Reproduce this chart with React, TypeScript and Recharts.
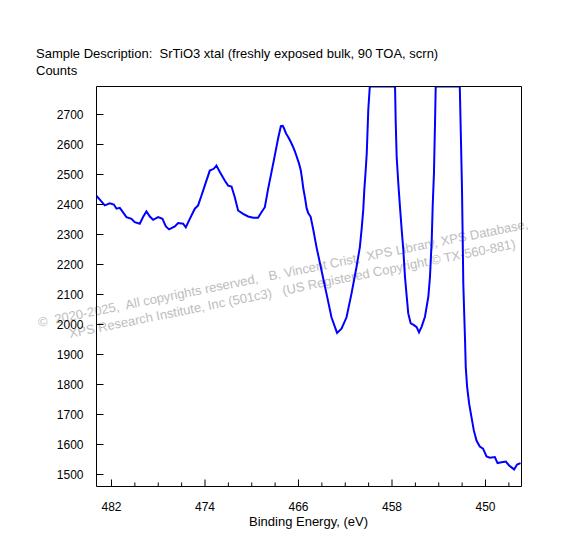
import React from 'react';
import { LineChart, Line, XAxis, YAxis } from 'recharts';

const titleText = 'Sample Description:  SrTiO3 xtal (freshly exposed bulk, 90 TOA, scrn)';
const yTitle = 'Counts';
const xTitle = 'Binding Energy, (eV)';
const watermark1 = '©  2020-2025,  All copyrights reserved,   B. Vincent Crist,  XPS Library, XPS Database,';
const watermark2 = 'XPS Research Institute, Inc (501c3)   (US Registered Copyright © TX-560-881)';

const energies = [
  483.32, 483.0, 482.57, 482.15, 481.8, 481.57, 481.29, 481.01, 480.72, 480.29,
  480.01, 479.58, 479.3, 479.01, 478.72, 478.44, 478.01, 477.64, 477.35, 477.07,
  476.58, 476.3, 475.87, 475.64, 475.3, 474.87, 474.59, 474.3, 474.02, 473.59,
  473.25, 473.02, 472.73, 472.31, 472.02, 471.73, 471.45, 471.17, 470.74, 470.31,
  469.88, 469.46, 469.17, 468.88, 468.6, 468.31, 468.03, 467.75, 467.51, 467.35,
  467.24, 467.07, 466.87, 466.67, 466.5, 466.3, 466.15, 465.96, 465.81, 465.7,
  465.59, 465.44, 465.3, 465.16, 464.96, 464.82, 464.73, 464.46, 464.03, 463.6,
  463.18, 462.7, 462.32, 461.89, 461.47, 461.04, 460.75, 460.59, 460.46, 460.37,
  460.25, 460.16, 460.08, 460.03, 459.9, 457.74, 457.68, 457.6, 457.46, 457.32,
  457.17, 457.03, 456.89, 456.74, 456.61, 456.4, 456.12, 455.89, 455.69, 455.46,
  455.18, 454.89, 454.75, 454.6, 454.52, 454.41, 454.32, 454.26, 452.2, 452.1,
  452.01, 451.95, 451.9, 451.84, 451.75, 451.69, 451.57, 451.4, 451.2, 451.0,
  450.77, 450.49, 450.21, 449.91, 449.63, 449.2, 448.97, 448.63, 448.26, 447.98,
  447.55, 447.3, 447.0,
];

const counts = [
  2430, 2416, 2397, 2404, 2400, 2386, 2389, 2374, 2358, 2352,
  2341, 2336, 2358, 2377, 2360, 2349, 2358, 2352, 2327, 2317,
  2327, 2338, 2336, 2324, 2352, 2386, 2397, 2430, 2463, 2513,
  2519, 2530, 2508, 2480, 2463, 2460, 2424, 2380, 2369, 2360,
  2356, 2356, 2374, 2391, 2452, 2508, 2563, 2619, 2661, 2662,
  2654, 2637, 2624, 2609, 2595, 2576, 2559, 2537, 2515, 2487,
  2454, 2421, 2387, 2371, 2359, 2332, 2315, 2258, 2180, 2102,
  2024, 1972, 1986, 2024, 2102, 2191, 2258, 2321, 2382, 2448,
  2515, 2571, 2659, 2715, 2793, 2793, 2671, 2559, 2471, 2393,
  2315, 2248, 2159, 2093, 2037, 2004, 1998, 1991, 1974, 1993,
  2026, 2093, 2159, 2282, 2393, 2504, 2671, 2793, 2793, 2615,
  2448, 2282, 2137, 2059, 1948, 1858, 1791, 1736, 1691, 1647,
  1613, 1593, 1586, 1560, 1556, 1558, 1538, 1541, 1543, 1530,
  1517, 1533, 1538,
];

const yTicks = [1500, 1600, 1700, 1800, 1900, 2000, 2100, 2200, 2300, 2400, 2500, 2600, 2700];
const xTicks = [482, 480, 478, 476, 474, 472, 470, 468, 466, 464, 462, 460, 458, 456, 454, 452, 450, 448];
const xLabeled = [482, 474, 466, 458, 450];

const xDomain: [number, number] = [446.92, 483.283];
const yDomain: [number, number] = [1460, 2793.3];

const rows = energies.map((e, i) => ({ e, c: counts[i] }));

const FONT = '"Liberation Sans", Arial, sans-serif';

const YTick = (props: any) => {
  const { x, y, payload } = props;
  return (
    <g>
      <line x1={x} x2={x + 7} y1={y} y2={y} stroke="#000" strokeWidth={1} />
      <text x={x - 13} y={y + 4.3} textAnchor="end" fontSize={12} fontFamily={FONT} fill="#000">
        {payload.value}
      </text>
    </g>
  );
};

const XTick = (props: any) => {
  const { x, y, payload } = props;
  const major = xLabeled.includes(payload.value);
  return (
    <g>
      <line x1={x} x2={x} y1={y} y2={y - (major ? 7 : 4)} stroke="#000" strokeWidth={1} />
      {major ? (
        <text x={x} y={y + 24.2} textAnchor="middle" fontSize={12} fontFamily={FONT} fill="#000">
          {payload.value}
        </text>
      ) : null}
    </g>
  );
};

export default function App() {
  return (
    <div style={{ position: 'absolute', left: 0, top: 0, width: 578, height: 560, background: '#fff' }}>
      <svg width={578} height={560} style={{ position: 'absolute', left: 0, top: 0 }}>
        <text x={36} y={58} fontSize={13} fontFamily={FONT} fill="#000" style={{ whiteSpace: 'pre' }}>
          {titleText}
        </text>
        <text x={36} y={75} fontSize={13} fontFamily={FONT} fill="#000">
          {yTitle}
        </text>
        <text x={308.5} y={526} fontSize={13} fontFamily={FONT} fill="#000" textAnchor="middle">
          {xTitle}
        </text>
        <text
          x={39}
          y={327}
          fontSize={13}
          fontFamily={FONT}
          fill="#bdbdbd"
          transform="rotate(-11.4 39 327)"
          style={{ whiteSpace: 'pre' }}
        >
          {watermark1}
        </text>
        <text
          x={70}
          y={338}
          fontSize={13}
          fontFamily={FONT}
          fill="#bdbdbd"
          transform="rotate(-11.4 70 338)"
          style={{ whiteSpace: 'pre' }}
        >
          {watermark2}
        </text>
      </svg>
      <div style={{ position: 'absolute', left: 0, top: 0 }}>
        <LineChart
          width={578}
          height={560}
          data={rows}
          margin={{ top: 76.5, right: 46.5, bottom: 33.5, left: 36.5 }}
        >
          <XAxis
            xAxisId="main"
            dataKey="e"
            type="number"
            domain={xDomain}
            allowDataOverflow
            reversed
            ticks={xTicks}
            interval={0}
            height={40}
            tickSize={0}
            tickMargin={0}
            tickLine={false}
            axisLine={{ stroke: '#000', strokeWidth: 1 }}
            tick={<XTick />}
          />
          <XAxis
            xAxisId="top"
            orientation="top"
            type="number"
            domain={[0, 1]}
            height={10}
            tick={false}
            tickLine={false}
            axisLine={{ stroke: '#000', strokeWidth: 1 }}
          />
          <YAxis
            yAxisId="main"
            type="number"
            domain={yDomain}
            allowDataOverflow
            ticks={yTicks}
            interval={0}
            width={60}
            tickSize={0}
            tickMargin={0}
            tickLine={false}
            axisLine={{ stroke: '#000', strokeWidth: 1 }}
            tick={<YTick />}
          />
          <YAxis
            yAxisId="right"
            orientation="right"
            type="number"
            domain={[0, 1]}
            width={10}
            tick={false}
            tickLine={false}
            axisLine={{ stroke: '#000', strokeWidth: 1 }}
          />
          <Line
            xAxisId="main"
            yAxisId="main"
            dataKey="c"
            type="linear"
            stroke="#0000ff"
            strokeWidth={2}
            dot={false}
            activeDot={false}
            isAnimationActive={false}
          />
        </LineChart>
      </div>
    </div>
  );
}
